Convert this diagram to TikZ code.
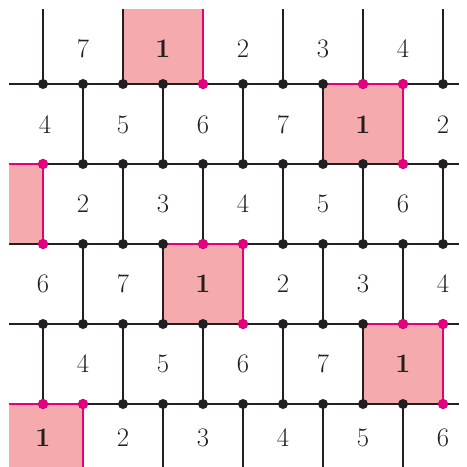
\documentclass[tikz,border=0pt]{standalone}
\usetikzlibrary{backgrounds}
\definecolor{tilefill}{HTML}{F5AAAD}
\definecolor{tileborder}{HTML}{E6007E}
\definecolor{darkline}{HTML}{231F20}
\tikzset{
  tile/.style={fill=tilefill, draw=none},
  grid/.style={draw=darkline, line width=1.5pt},
  edge/.style={draw=tileborder, line width=1.9pt},
  dot/.style={circle, fill=darkline, inner sep=0pt, minimum size=2.5mm},
  pinkdot/.style={dot, fill=tileborder},
  num/.style={font=\fontsize{19}{22}\selectfont, text=darkline},
  one/.style={num, font=\fontsize{19}{22}\selectfont\bfseries}
}

\begin{document}
\begin{tikzpicture}[x=1cm, y=-1cm]
\useasboundingbox (-0.075,-0.1) rectangle (11.6,11.575);

% shaded tiles
\fill[tile] (3,0.125) rectangle (5,2);
\fill[tile] (8,2) rectangle (10,4);
\fill[tile] (0.15,4) rectangle (1,6);
\fill[tile] (4,6) rectangle (6,8);
\fill[tile] (9,8) rectangle (11,10);
\fill[tile] (0.15,10) rectangle (2,11.575);

% horizontal lines
\foreach \y in {2,4,6,8,10}
  \draw[grid] (0.15,\y) -- (11.4,\y);

% vertical lines
\foreach \x in {1,3,5,7,9,11} {
  \draw[grid] (\x,0.125) -- (\x,2);
  \draw[grid] (\x,4) -- (\x,6);
  \draw[grid] (\x,8) -- (\x,10);
}
\foreach \x in {2,4,6,8,10} {
  \draw[grid] (\x,2) -- (\x,4);
  \draw[grid] (\x,6) -- (\x,8);
  \draw[grid] (\x,10) -- (\x,11.575);
}

% tile borders
\draw[edge] (5,0.125) -- (5,2);
\draw[edge] (8,2) -- (10,2) -- (10,4);
\draw[edge] (0.15,4) -- (1,4) -- (1,6);
\draw[edge] (4,6) -- (6,6) -- (6,8);
\draw[edge] (9,8) -- (11,8) -- (11,10);
\draw[edge] (0.15,10) -- (2,10) -- (2,11.575);

% dots
\foreach \y in {2,4,6,8,10}
  \foreach \x in {1,...,11}
    \node[dot] (d\x-\y) at (\x,\y) {};
\node[pinkdot] (p1) at (5,2) {};
\node[pinkdot] (p2) at (9,2) {};
\node[pinkdot] (p3) at (10,2) {};
\node[pinkdot] (p4) at (10,4) {};
\node[pinkdot] (p5) at (1,4) {};
\node[pinkdot] (p6) at (1,6) {};
\node[pinkdot] (p7) at (5,6) {};
\node[pinkdot] (p8) at (6,6) {};
\node[pinkdot] (p9) at (6,8) {};
\node[pinkdot] (p10) at (10,8) {};
\node[pinkdot] (p11) at (11,8) {};
\node[pinkdot] (p12) at (11,10) {};
\node[pinkdot] (p13) at (1,10) {};
\node[pinkdot] (p14) at (2,10) {};

% numbers
\node[num] (a1) at (2,1.125) {7};
\node[one] (a2) at (4,1.125) {1};
\node[num] (a3) at (6,1.125) {2};
\node[num] (a4) at (8,1.125) {3};
\node[num] (a5) at (10,1.125) {4};

\node[num] (b1) at (1.05,3.02) {4};
\node[num] (b2) at (3,3.02) {5};
\node[num] (b3) at (5,3.02) {6};
\node[num] (b4) at (7,3.02) {7};
\node[one] (b5) at (9,3.02) {1};
\node[num] (b6) at (11,3.02) {2};

\node[num] (c1) at (2,5) {2};
\node[num] (c2) at (4,5) {3};
\node[num] (c3) at (6,5) {4};
\node[num] (c4) at (8,5) {5};
\node[num] (c5) at (10,5) {6};

\node[num] (e1) at (1,7) {6};
\node[num] (e2) at (3,7) {7};
\node[one] (e3) at (5,7) {1};
\node[num] (e4) at (7,7) {2};
\node[num] (e5) at (9,7) {3};
\node[num] (e6) at (11,7) {4};

\node[num] (f1) at (2,9) {4};
\node[num] (f2) at (4,9) {5};
\node[num] (f3) at (6,9) {6};
\node[num] (f4) at (8,9) {7};
\node[one] (f5) at (10,9) {1};

\node[one] (g1) at (1,10.85) {1};
\node[num] (g2) at (3,10.85) {2};
\node[num] (g3) at (5,10.85) {3};
\node[num] (g4) at (7,10.85) {4};
\node[num] (g5) at (9,10.85) {5};
\node[num] (g6) at (11,10.85) {6};

\end{tikzpicture}
\end{document}
